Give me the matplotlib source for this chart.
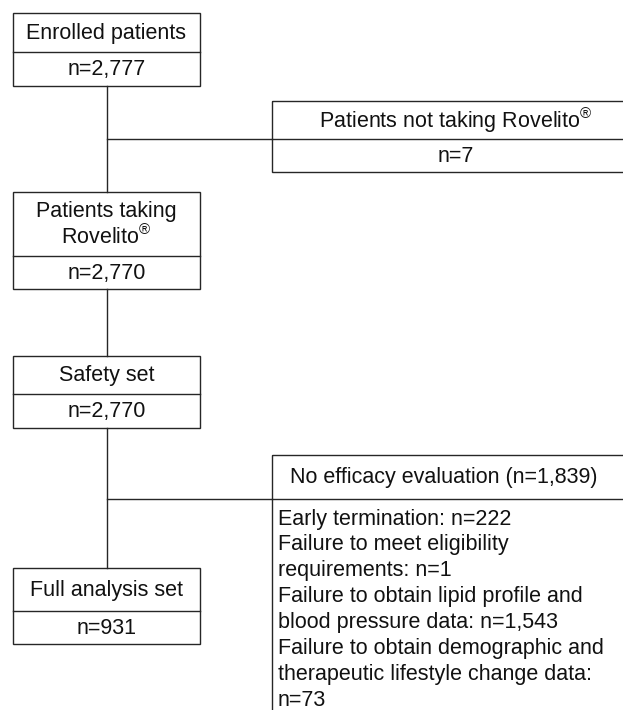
import matplotlib
matplotlib.use("Agg")
import matplotlib.pyplot as plt
from matplotlib.patches import Rectangle

plt.rcParams['font.family'] = ['Liberation Sans', 'DejaVu Sans']
plt.rcParams['mathtext.fontset'] = 'custom'
plt.rcParams['mathtext.rm'] = 'Liberation Sans'

# ---- data ----
main_labels = ["Enrolled patients", "Patients taking\nRovelito$^{\\mathrm{®}}$", "Safety set", "Full analysis set"]
main_counts = ["2,777", "2,770", "2,770", "931"]
excl1_label = "Patients not taking Rovelito$^{\\mathrm{®}}$"
excl1_count = "7"
excl2_label = "No efficacy evaluation (n=1,839)"
excl2_lines = [
    "Early termination: n=222",
    "Failure to meet eligibility",
    "requirements: n=1",
    "Failure to obtain lipid profile and",
    "blood pressure data: n=1,543",
    "Failure to obtain demographic and",
    "therapeutic lifestyle change data:",
    "n=73",
]

W, H = 623, 710
fig = plt.figure(figsize=(W / 100, H / 100), dpi=100)
ax = fig.add_axes([0, 0, 1, 1])
ax.set_xlim(0, W)
ax.set_ylim(H, 0)
ax.axis('off')

LC = '#262626'
LW = 1.0
FS = 15.5

# main boxes: (top, divider, bottom)
main_geom = [(13, 52, 86), (192, 256, 289), (356, 394, 428), (568, 611, 644)]
x0, x1 = 13, 200
xc = (x0 + x1) / 2

def box(xl, xr, top, div, bot):
    ax.add_patch(Rectangle((xl, top), xr - xl, bot - top, fill=False, ec=LC, lw=LW))
    ax.plot([xl, xr], [div, div], color=LC, lw=LW)

for (top, div, bot), lab, cnt in zip(main_geom, main_labels, main_counts):
    box(x0, x1, top, div, bot)
    ax.text(xc, (top + div) / 2 + 1, lab, ha='center', va='center', fontsize=FS,
            color='#111111', linespacing=1.15)
    ax.text(xc, (div + bot) / 2 + 1, "n=" + cnt, ha='center', va='center', fontsize=FS,
            color='#111111')

# connectors
vx = 107
for a, b in zip(main_geom[:-1], main_geom[1:]):
    ax.plot([vx, vx], [a[2], b[0]], color=LC, lw=LW)

# exclusion box 1
ex_x = 272
box(ex_x, 700, 101, 139, 172)
ax.plot([vx, ex_x], [139, 139], color=LC, lw=LW)
ax.text(456, 120, excl1_label, ha='center', va='center', fontsize=FS, color='#111111')
ax.text(456, 156, "n=" + excl1_count, ha='center', va='center', fontsize=FS, color='#111111')

# exclusion box 2 (runs off the bottom/right)
box(ex_x, 700, 455, 499, 760)
ax.plot([vx, ex_x], [499, 499], color=LC, lw=LW)
ax.text(444, 477, excl2_label, ha='center', va='center', fontsize=FS, color='#111111')
y = 519
for line in excl2_lines:
    ax.text(278, y, line, ha='left', va='center', fontsize=FS, color='#111111')
    y += 25.9

fig.savefig("out.png", dpi=100)
